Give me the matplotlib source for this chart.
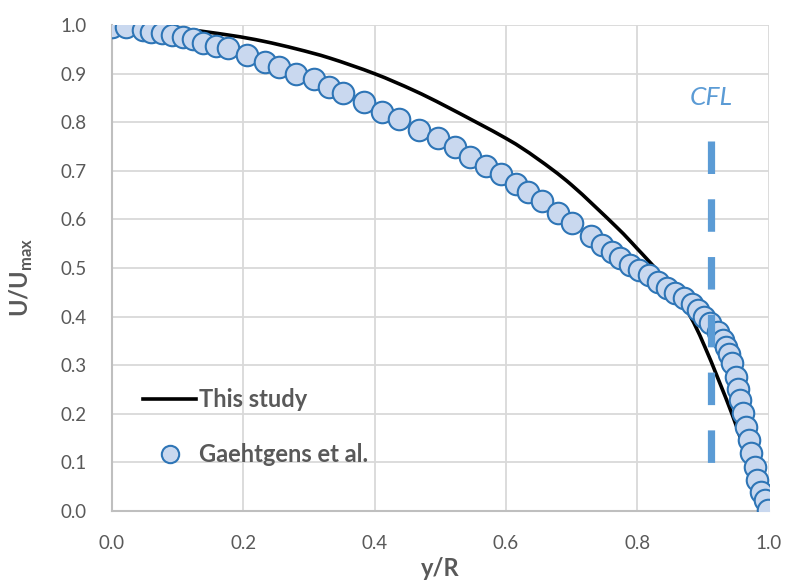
import numpy as np
import matplotlib
matplotlib.use("Agg")
import matplotlib.pyplot as plt
from matplotlib.lines import Line2D
from matplotlib.path import Path
from matplotlib.patches import PathPatch

plt.rcParams['font.family'] = ['Lato', 'DejaVu Sans']

# Gaehtgens et al. measured profile
exp_x = [0.0, 0.0, 0.022, 0.047, 0.060, 0.076, 0.092, 0.108, 0.123, 0.139, 0.159,
         0.177, 0.205, 0.233, 0.255, 0.281, 0.307, 0.330, 0.352, 0.384, 0.412,
         0.437, 0.467, 0.496, 0.523, 0.546, 0.569, 0.593, 0.616, 0.634, 0.655,
         0.679, 0.700, 0.729, 0.746, 0.761, 0.774, 0.789, 0.803, 0.818, 0.832,
         0.845, 0.857, 0.872, 0.883, 0.893, 0.901, 0.911, 0.923, 0.931, 0.936,
         0.940, 0.945, 0.950, 0.954, 0.957, 0.961, 0.966, 0.970, 0.974, 0.979,
         0.983, 0.989, 0.994, 0.999]
exp_u = [1.000, 0.996, 0.996, 0.989, 0.986, 0.983, 0.979, 0.975, 0.971, 0.963, 0.956,
         0.952, 0.938, 0.924, 0.914, 0.900, 0.889, 0.873, 0.861, 0.842, 0.822,
         0.806, 0.785, 0.767, 0.750, 0.729, 0.710, 0.693, 0.674, 0.657, 0.637,
         0.614, 0.592, 0.565, 0.547, 0.534, 0.520, 0.506, 0.496, 0.486, 0.472,
         0.458, 0.448, 0.438, 0.427, 0.414, 0.400, 0.386, 0.369, 0.352, 0.338,
         0.324, 0.304, 0.276, 0.252, 0.228, 0.201, 0.173, 0.146, 0.119, 0.091,
         0.064, 0.040, 0.023, 0.002]

# simulated profile (this study)
sim_x = [0.0, 0.1, 0.18, 0.23, 0.281, 0.332, 0.4, 0.459, 0.51, 0.6,
         0.647, 0.7, 0.768, 0.8, 0.834, 0.875, 0.903, 0.944, 0.97, 1.0]
sim_u = [1.0, 0.993, 0.979, 0.967, 0.951, 0.932, 0.900, 0.866, 0.832, 0.767,
         0.726, 0.671, 0.585, 0.540, 0.489, 0.414, 0.338, 0.201, 0.100, 0.0]

cfl_x = 0.912
cfl_top, cfl_bottom = 0.761, 0.049

GRAY_TXT = '#595959'
BLUE = '#5B9BD5'


def smooth_path(xs, ys):
    # Catmull-Rom through the points, written as cubic Bezier segments
    p = np.column_stack([xs, ys])
    verts = [p[0]]
    codes = [Path.MOVETO]
    for i in range(len(p) - 1):
        p0 = p[i - 1] if i > 0 else p[i]
        p1, p2 = p[i], p[i + 1]
        p3 = p[i + 2] if i + 2 < len(p) else p[i + 1]
        c1 = p1 + (p2 - p0) / 6.0
        c2 = p2 - (p3 - p1) / 6.0
        verts += [c1, c2, p2]
        codes += [Path.CURVE4] * 3
    return Path(verts, codes)


fig = plt.figure(figsize=(7.85, 5.84), dpi=100)
ax = fig.add_axes([0.1427, 0.125, 0.8363, 0.832])

ax.add_patch(PathPatch(smooth_path(sim_x, sim_u), fill=False, ec='black',
                       lw=2.6, zorder=3))
ax.plot(exp_x, exp_u, ls='none', marker='o', ms=15.5, mfc='#C9D8EF',
        mec='#2E75B6', mew=1.5, zorder=4)

# CFL boundary
ax.plot([cfl_x, cfl_x], [cfl_top, cfl_bottom], color=BLUE, lw=5.2,
        dashes=(4.5, 3.5), solid_capstyle='butt', dash_capstyle='butt', zorder=5)
ax.text(cfl_x, 0.852, 'CFL', color=BLUE, style='italic', fontsize=19,
        ha='center', va='center')

ax.set_xlim(0, 1.0)
ax.set_ylim(0, 1.0)
ax.set_xticks(np.arange(0, 1.01, 0.2))
ax.set_yticks(np.arange(0, 1.01, 0.1))
ax.xaxis.set_major_formatter(matplotlib.ticker.FormatStrFormatter('%.1f'))
ax.yaxis.set_major_formatter(matplotlib.ticker.FormatStrFormatter('%.1f'))
ax.tick_params(length=0, labelsize=13.5, labelcolor=GRAY_TXT)
ax.tick_params(axis='x', pad=17)
ax.tick_params(axis='y', pad=18)
ax.grid(True, color='#D9D9D9', lw=1.3)
ax.set_axisbelow(True)
for s in ['top', 'right']:
    ax.spines[s].set_visible(False)
for s in ['left', 'bottom']:
    ax.spines[s].set_color('#BFBFBF')
    ax.spines[s].set_linewidth(1.5)

ax.set_xlabel('y/R', fontsize=17, fontweight='bold', color=GRAY_TXT)
ax.set_ylabel(r'U/U$_\mathregular{max}$', fontsize=17, fontweight='bold',
              color=GRAY_TXT)
ax.xaxis.set_label_coords(0.5, -0.094)
ax.yaxis.set_label_coords(-0.118, 0.48)

handles = [Line2D([], [], color='black', lw=2.6),
           Line2D([], [], ls='none', marker='o', ms=12.5, mfc='#C9D8EF',
                  mec='#2E75B6', mew=1.5)]
leg = ax.legend(handles, ['This study', 'Gaehtgens et al.'], loc='upper left',
                bbox_to_anchor=(0.015, 0.296), frameon=False, fontsize=17,
                handlelength=2.25, handletextpad=0.1, labelspacing=1.35)
for t in leg.get_texts():
    t.set_color(GRAY_TXT)
    t.set_fontweight('bold')

fig.savefig('out.png', dpi=100)
